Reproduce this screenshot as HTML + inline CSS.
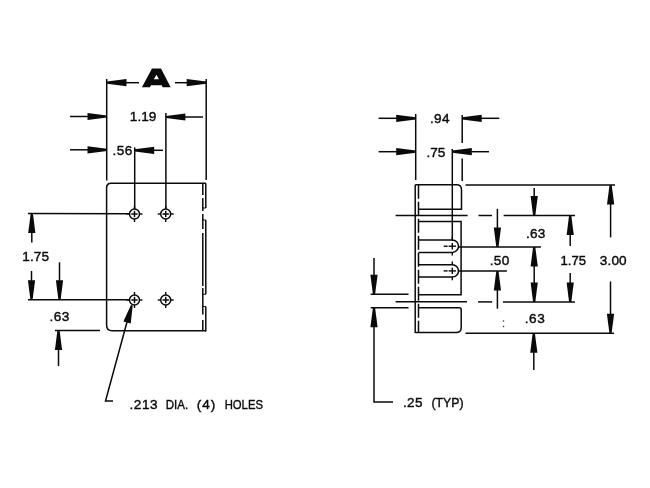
<!DOCTYPE html>
<html><head><meta charset="utf-8"><style>
html,body{margin:0;padding:0;background:#fff;width:650px;height:488px;overflow:hidden}
svg{display:block;will-change:transform}
text{font-family:"Liberation Sans",sans-serif;fill:#0a0a0a;stroke:#0a0a0a;stroke-width:0.4px}
</style></head><body>
<svg width="650" height="488" viewBox="0 0 650 488" stroke="#0a0a0a" stroke-linecap="butt">
<line x1="106.7" y1="79" x2="106.7" y2="180.5" stroke-width="1.5"/>
<line x1="206.2" y1="79" x2="206.2" y2="180" stroke-width="1.5"/>
<polygon points="107.00,81.60 126.50,79.10 126.50,86.30 107.00,83.80" stroke="none" fill="#0a0a0a"/>
<line x1="126" y1="82.7" x2="139" y2="82.7" stroke-width="1.5"/>
<polygon points="206.20,81.60 186.70,79.10 186.70,86.30 206.20,83.80" stroke="none" fill="#0a0a0a"/>
<line x1="175" y1="82.7" x2="187" y2="82.7" stroke-width="1.5"/>
<path d="M141.9,87.3 L152,68.6 L161,68.6 L170.7,87.3 L162.7,87.3 L161.6,85.2 L151,85.2 L149.9,87.3 Z M156.5,74.8 L158.9,79.3 L153.8,79.3 Z" stroke="none" fill="#0a0a0a" fill-rule="evenodd"/>
<line x1="70" y1="116.5" x2="88" y2="116.5" stroke-width="1.5"/>
<polygon points="107.00,115.40 87.50,112.90 87.50,120.10 107.00,117.60" stroke="none" fill="#0a0a0a"/>
<line x1="165.9" y1="112.9" x2="165.9" y2="209" stroke-width="1.5"/>
<polygon points="165.90,115.90 185.40,113.40 185.40,120.60 165.90,118.10" stroke="none" fill="#0a0a0a"/>
<line x1="185" y1="117" x2="203" y2="117" stroke-width="1.5"/>
<line x1="70" y1="149.8" x2="88" y2="149.8" stroke-width="1.5"/>
<polygon points="107.00,148.70 87.50,146.20 87.50,153.40 107.00,150.90" stroke="none" fill="#0a0a0a"/>
<line x1="134.7" y1="147.4" x2="134.7" y2="209" stroke-width="1.5"/>
<polygon points="134.70,149.20 154.20,146.70 154.20,153.90 134.70,151.40" stroke="none" fill="#0a0a0a"/>
<line x1="154" y1="150.3" x2="163" y2="150.3" stroke-width="1.5"/>
<path d="M106.6,188 Q106.6,183.3 111.3,183.3 L205.8,183.3" stroke-width="1.5" fill="none"/>
<path d="M106.6,188 L106.6,325 Q106.6,330.7 112,330.7 L205.8,330.7" stroke-width="1.5" fill="none"/>
<line x1="205.8" y1="183.3" x2="205.8" y2="208" stroke-width="1.5"/>
<line x1="205.8" y1="220" x2="205.8" y2="294.3" stroke-width="1.5"/>
<line x1="205.8" y1="306.6" x2="205.8" y2="331.4" stroke-width="1.5"/>
<line x1="202.8" y1="183.3" x2="202.8" y2="195" stroke-width="1.5"/>
<line x1="202.8" y1="198" x2="202.8" y2="211" stroke-width="1.5"/>
<line x1="202.8" y1="214" x2="202.8" y2="229" stroke-width="1.5"/>
<line x1="202.8" y1="233" x2="202.8" y2="286" stroke-width="1.5"/>
<line x1="202.8" y1="288" x2="202.8" y2="314.5" stroke-width="1.5"/>
<line x1="202.8" y1="320" x2="202.8" y2="331" stroke-width="1.5"/>
<line x1="202.8" y1="208" x2="205.8" y2="208" stroke-width="1.0"/>
<line x1="202.8" y1="220" x2="205.8" y2="220" stroke-width="1.0"/>
<line x1="202.8" y1="294.3" x2="205.8" y2="294.3" stroke-width="1.0"/>
<line x1="202.8" y1="306.6" x2="205.8" y2="306.6" stroke-width="1.0"/>
<circle cx="134.5" cy="214" r="5.0" fill="none" stroke-width="1.5"/>
<line x1="131.3" y1="214" x2="137.7" y2="214" stroke-width="1.5"/>
<line x1="134.5" y1="210.8" x2="134.5" y2="217.2" stroke-width="1.5"/>
<line x1="139.5" y1="214" x2="142.5" y2="214" stroke-width="1.4"/>
<line x1="126.5" y1="214" x2="129.5" y2="214" stroke-width="1.4"/>
<line x1="134.5" y1="219.0" x2="134.5" y2="222.0" stroke-width="1.4"/>
<line x1="134.5" y1="206.0" x2="134.5" y2="209.0" stroke-width="1.4"/>
<circle cx="134.5" cy="300" r="5.0" fill="none" stroke-width="1.5"/>
<line x1="131.3" y1="300" x2="137.7" y2="300" stroke-width="1.5"/>
<line x1="134.5" y1="296.8" x2="134.5" y2="303.2" stroke-width="1.5"/>
<line x1="139.5" y1="300" x2="142.5" y2="300" stroke-width="1.4"/>
<line x1="126.5" y1="300" x2="129.5" y2="300" stroke-width="1.4"/>
<line x1="134.5" y1="305.0" x2="134.5" y2="308.0" stroke-width="1.4"/>
<line x1="134.5" y1="292.0" x2="134.5" y2="295.0" stroke-width="1.4"/>
<circle cx="165.7" cy="214" r="5.0" fill="none" stroke-width="1.5"/>
<line x1="162.5" y1="214" x2="168.89999999999998" y2="214" stroke-width="1.5"/>
<line x1="165.7" y1="210.8" x2="165.7" y2="217.2" stroke-width="1.5"/>
<line x1="170.7" y1="214" x2="173.7" y2="214" stroke-width="1.4"/>
<line x1="157.7" y1="214" x2="160.7" y2="214" stroke-width="1.4"/>
<line x1="165.7" y1="219.0" x2="165.7" y2="222.0" stroke-width="1.4"/>
<line x1="165.7" y1="206.0" x2="165.7" y2="209.0" stroke-width="1.4"/>
<circle cx="165.7" cy="300" r="5.0" fill="none" stroke-width="1.5"/>
<line x1="162.5" y1="300" x2="168.89999999999998" y2="300" stroke-width="1.5"/>
<line x1="165.7" y1="296.8" x2="165.7" y2="303.2" stroke-width="1.5"/>
<line x1="170.7" y1="300" x2="173.7" y2="300" stroke-width="1.4"/>
<line x1="157.7" y1="300" x2="160.7" y2="300" stroke-width="1.4"/>
<line x1="165.7" y1="305.0" x2="165.7" y2="308.0" stroke-width="1.4"/>
<line x1="165.7" y1="292.0" x2="165.7" y2="295.0" stroke-width="1.4"/>
<line x1="28" y1="213.4" x2="129.5" y2="213.8" stroke-width="1.5"/>
<line x1="28" y1="299.7" x2="129.5" y2="299.7" stroke-width="1.5"/>
<polygon points="30.70,213.40 28.20,232.90 35.40,232.90 32.90,213.40" stroke="none" fill="#0a0a0a"/>
<line x1="31.8" y1="232" x2="31.8" y2="242.4" stroke-width="1.5"/>
<line x1="31.5" y1="271" x2="31.5" y2="281" stroke-width="1.5"/>
<polygon points="30.40,299.70 27.90,280.20 35.10,280.20 32.60,299.70" stroke="none" fill="#0a0a0a"/>
<line x1="59.5" y1="262.3" x2="59.5" y2="281" stroke-width="1.5"/>
<polygon points="58.40,299.70 55.90,280.20 63.10,280.20 60.60,299.70" stroke="none" fill="#0a0a0a"/>
<line x1="55" y1="330.5" x2="100" y2="330.5" stroke-width="1.5"/>
<polygon points="57.40,330.50 54.90,350.00 62.10,350.00 59.60,330.50" stroke="none" fill="#0a0a0a"/>
<line x1="58.5" y1="349" x2="58.5" y2="366" stroke-width="1.5"/>
<path d="M127,322 L105.5,401 L113,401" stroke-width="1.5" fill="none"/>
<polygon points="130.93,304.96 123.37,321.55 130.70,323.56 132.67,305.44" stroke="none" fill="#0a0a0a"/>
<line x1="415.7" y1="114" x2="415.7" y2="180" stroke-width="1.5"/>
<line x1="462.2" y1="115" x2="462.2" y2="143" stroke-width="1.5"/>
<line x1="462.2" y1="158.5" x2="462.2" y2="181" stroke-width="1.5"/>
<line x1="378.6" y1="118.3" x2="397" y2="118.3" stroke-width="1.5"/>
<polygon points="415.70,117.20 396.20,114.70 396.20,121.90 415.70,119.40" stroke="none" fill="#0a0a0a"/>
<polygon points="462.20,117.20 481.70,114.70 481.70,121.90 462.20,119.40" stroke="none" fill="#0a0a0a"/>
<line x1="481" y1="118.3" x2="499.3" y2="118.3" stroke-width="1.5"/>
<line x1="378.6" y1="151.7" x2="397" y2="151.7" stroke-width="1.5"/>
<polygon points="415.70,150.60 396.20,148.10 396.20,155.30 415.70,152.80" stroke="none" fill="#0a0a0a"/>
<line x1="452.3" y1="149" x2="452.3" y2="241" stroke-width="1.5"/>
<polygon points="452.30,150.60 471.80,148.10 471.80,155.30 452.30,152.80" stroke="none" fill="#0a0a0a"/>
<line x1="471.3" y1="151.7" x2="489" y2="151.7" stroke-width="1.5"/>
<line x1="415.2" y1="184.7" x2="415.2" y2="332.9" stroke-width="1.5"/>
<line x1="418.5" y1="184.7" x2="418.5" y2="332" stroke-width="1.5" stroke-dasharray="14,3"/>
<path d="M415.2,184.75 L456.5,184.75 Q461.5,184.75 461.5,189.75 L461.5,209.3 L418.5,209.3" stroke-width="1.5" fill="none"/>
<line x1="395.6" y1="215.5" x2="467.6" y2="215.5" stroke-width="1.5"/>
<line x1="478.5" y1="215.5" x2="492" y2="215.5" stroke-width="1.5"/>
<line x1="503.6" y1="215.5" x2="575" y2="215.5" stroke-width="1.5"/>
<path d="M418.5,221.6 L461.1,221.6 L461.1,294.75 L418.5,294.75" stroke-width="1.5" fill="none"/>
<path d="M418.5,240.0 L452.3,240.0 A6.2,6.2 0 0 1 452.3,252.39999999999998 L418.5,252.39999999999998" stroke-width="1.5" fill="none"/>
<line x1="443.7" y1="246.2" x2="447.6" y2="246.2" stroke-width="1.4"/>
<line x1="448.6" y1="246.2" x2="456" y2="246.2" stroke-width="1.4"/>
<line x1="452.3" y1="243.0" x2="452.3" y2="249.39999999999998" stroke-width="1.4"/>
<line x1="452.3" y1="252.39999999999998" x2="452.3" y2="255.59999999999997" stroke-width="1.4"/>
<line x1="452.3" y1="236.8" x2="452.3" y2="240.0" stroke-width="1.4"/>
<path d="M418.5,264.7 L452.3,264.7 A6.2,6.2 0 0 1 452.3,277.09999999999997 L418.5,277.09999999999997" stroke-width="1.5" fill="none"/>
<line x1="443.7" y1="270.9" x2="447.6" y2="270.9" stroke-width="1.4"/>
<line x1="448.6" y1="270.9" x2="456" y2="270.9" stroke-width="1.4"/>
<line x1="452.3" y1="267.7" x2="452.3" y2="274.09999999999997" stroke-width="1.4"/>
<line x1="452.3" y1="277.09999999999997" x2="452.3" y2="280.29999999999995" stroke-width="1.4"/>
<line x1="452.3" y1="261.5" x2="452.3" y2="264.7" stroke-width="1.4"/>
<line x1="459" y1="246.9" x2="540.9" y2="246.9" stroke-width="1.5"/>
<line x1="459" y1="270.9" x2="506.9" y2="270.9" stroke-width="1.5"/>
<line x1="395.6" y1="301.7" x2="467" y2="301.7" stroke-width="1.5"/>
<line x1="478.1" y1="301.9" x2="492.2" y2="301.9" stroke-width="1.5"/>
<line x1="502.9" y1="301.9" x2="575" y2="301.9" stroke-width="1.5"/>
<path d="M418.5,307.7 L459.2,307.7 Q461.2,307.7 461.2,309.7 L461.2,327.4 Q461.2,332.4 456.2,332.4 L415.2,332.4" stroke-width="1.5" fill="none"/>
<line x1="465.5" y1="184.9" x2="615" y2="184.9" stroke-width="1.5"/>
<line x1="465.5" y1="333.2" x2="614" y2="333.2" stroke-width="1.5"/>
<line x1="370.7" y1="294.3" x2="408.5" y2="294.3" stroke-width="1.5"/>
<line x1="370.7" y1="307.7" x2="408.5" y2="307.7" stroke-width="1.5"/>
<line x1="374" y1="258" x2="374" y2="276" stroke-width="1.5"/>
<polygon points="372.90,294.30 370.40,274.80 377.60,274.80 375.10,294.30" stroke="none" fill="#0a0a0a"/>
<polygon points="372.90,307.70 370.40,327.20 377.60,327.20 375.10,307.70" stroke="none" fill="#0a0a0a"/>
<path d="M374,326 L374,402 L393,402" stroke-width="1.5" fill="none"/>
<line x1="534.2" y1="188" x2="534.2" y2="197" stroke-width="1.5"/>
<polygon points="533.10,215.50 530.60,196.00 537.80,196.00 535.30,215.50" stroke="none" fill="#0a0a0a"/>
<polygon points="569.10,215.50 566.60,235.00 573.80,235.00 571.30,215.50" stroke="none" fill="#0a0a0a"/>
<line x1="570.2" y1="234" x2="570.2" y2="246" stroke-width="1.5"/>
<line x1="570.2" y1="273" x2="570.2" y2="283" stroke-width="1.5"/>
<polygon points="569.10,301.90 566.60,282.40 573.80,282.40 571.30,301.90" stroke="none" fill="#0a0a0a"/>
<line x1="497.4" y1="208.8" x2="497.4" y2="228" stroke-width="1.5"/>
<polygon points="496.30,246.90 493.80,227.40 501.00,227.40 498.50,246.90" stroke="none" fill="#0a0a0a"/>
<polygon points="496.30,270.90 493.80,290.40 501.00,290.40 498.50,270.90" stroke="none" fill="#0a0a0a"/>
<line x1="497.4" y1="289" x2="497.4" y2="308.7" stroke-width="1.5"/>
<polygon points="533.10,246.90 530.60,266.40 537.80,266.40 535.30,246.90" stroke="none" fill="#0a0a0a"/>
<polygon points="533.10,301.90 530.60,282.40 537.80,282.40 535.30,301.90" stroke="none" fill="#0a0a0a"/>
<line x1="534.2" y1="265" x2="534.2" y2="283" stroke-width="1.5"/>
<polygon points="609.50,184.90 607.00,204.40 614.20,204.40 611.70,184.90" stroke="none" fill="#0a0a0a"/>
<line x1="610.6" y1="203" x2="610.6" y2="237.4" stroke-width="1.5"/>
<line x1="610.5" y1="281.5" x2="610.5" y2="314" stroke-width="1.5"/>
<polygon points="609.40,333.20 606.90,313.70 614.10,313.70 611.60,333.20" stroke="none" fill="#0a0a0a"/>
<circle cx="503.5" cy="321" r="0.8" fill="#333" stroke="none"/>
<circle cx="503.5" cy="326.5" r="0.8" fill="#333" stroke="none"/>
<polygon points="532.70,333.20 530.20,352.70 537.40,352.70 534.90,333.20" stroke="none" fill="#0a0a0a"/>
<line x1="533.8" y1="351" x2="533.8" y2="370" stroke-width="1.5"/>
<text x="129.86 137.43 141.21 148.78" y="121.35" font-size="13.6">1.19</text>
<text x="112.46 116.75 124.83" y="154.85" font-size="13.6">.56</text>
<text x="22.26 29.91 33.76 41.41" y="261.05" font-size="13.6">1.75</text>
<text x="49.56 53.75 61.73" y="320.85" font-size="13.6">.63</text>
<text x="129.46 133.79 141.91 150.03" y="408.55" font-size="13.6">.213</text>
<text x="165.76" y="408.55" font-size="13.6" textLength="22.4" lengthAdjust="spacingAndGlyphs">DIA.</text>
<text x="196.76 202.27 210.81" y="408.55" font-size="13.6">(4)</text>
<text x="224.67" y="408.55" font-size="13.6" textLength="38.35" lengthAdjust="spacingAndGlyphs">HOLES</text>
<text x="429.96 434.05 441.93" y="123.35" font-size="13.6">.94</text>
<text x="426.56 430.29 437.81" y="156.85" font-size="13.6">.75</text>
<text x="525.96 530.0 537.83" y="237.55" font-size="13.6">.63</text>
<text x="489.66 493.82 501.77" y="265.35" font-size="13.6">.50</text>
<text x="560.5" y="265.45" font-size="13.6" textLength="25.55" lengthAdjust="spacingAndGlyphs">1.75</text>
<text x="599.78 607.47 611.38 619.07" y="265.45" font-size="13.6">3.00</text>
<text x="524.76 529.05 537.13" y="322.85" font-size="13.6">.63</text>
<text x="402.96 407.04 414.91" y="407.15" font-size="13.6">.25</text>
<text x="431.44" y="406.85" font-size="13.6" textLength="32.13" lengthAdjust="spacingAndGlyphs">(TYP)</text>
</svg>
</body></html>
